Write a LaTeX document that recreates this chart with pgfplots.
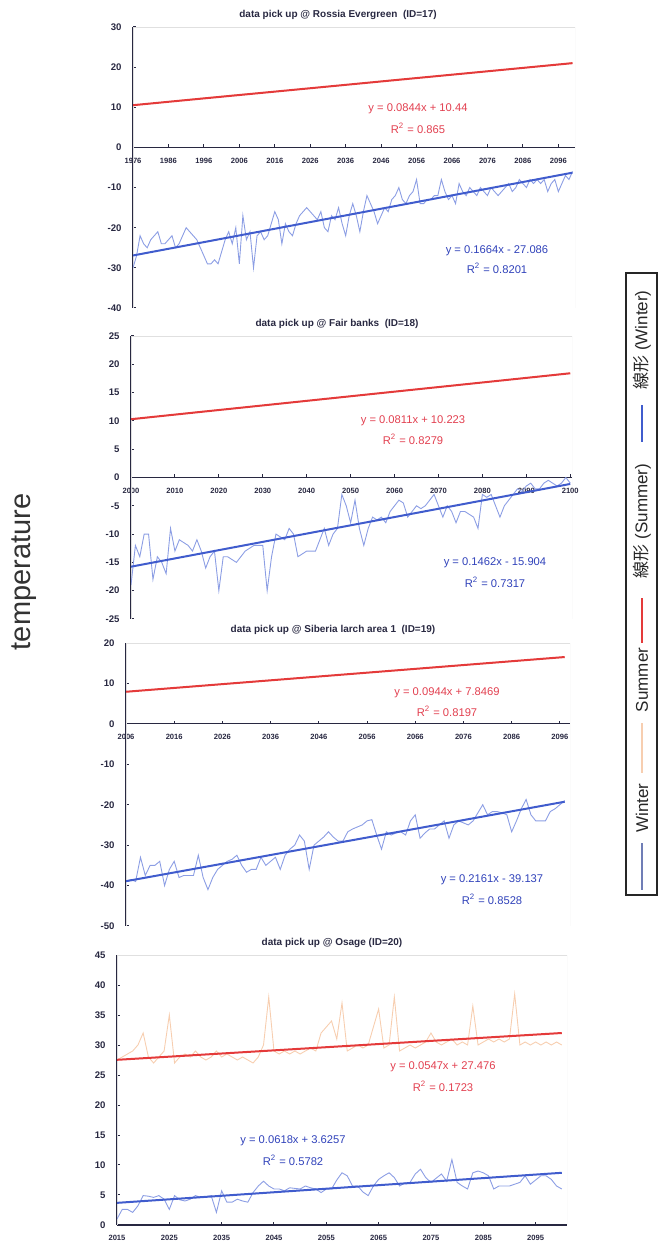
\documentclass[border=0pt]{standalone}
\usepackage{pgfplots}
\pgfplotsset{compat=1.18}
\usepackage{fontspec}
\setmainfont{Liberation Sans}
\newfontfamily\jp{Noto Sans CJK JP}
\definecolor{trendred}{RGB}{228,58,58}
\definecolor{trendblue}{RGB}{64,92,205}
\definecolor{winterc}{RGB}{140,158,228}
\definecolor{summerc}{RGB}{247,206,176}
\definecolor{eqred}{RGB}{226,64,80}
\definecolor{eqblue}{RGB}{48,66,186}
\definecolor{axc}{RGB}{40,40,65}
\tikzset{pframe/.style={black!12, line width=0.4pt}}
\pgfplotsset{
  panel/.style={
    scale only axis,
    axis x line=middle, axis y line=left,
    axis line style={axc, line width=0.6pt, -},
    every inner x axis line/.append style={-},
    every outer x axis line/.append style={-},
    every inner y axis line/.append style={-},
    every outer y axis line/.append style={-},
    hide obscured x ticks=false, hide obscured y ticks=false,
    tick align=inside, major tick length=1.5pt,
    tick style={axc, line width=0.5pt},
    /pgf/number format/assume math mode=true,
    /pgf/number format/1000 sep={},
    xticklabel style={font=\bfseries\fontsize{3.8}{4.5}\selectfont, text=axc, yshift=-1.8pt},
    yticklabel style={font=\bfseries\fontsize{4.8}{5.5}\selectfont, text=axc, xshift=-2.2pt},
    anchor=south west,
  },
  wint/.style={color=winterc, line width=0.45pt, no marks},
  summ/.style={color=summerc, line width=0.45pt, no marks},
  tred/.style={color=trendred, line width=1pt, no marks},
  tblue/.style={color=trendblue, line width=1pt, no marks},
}
\newcommand{\eqfont}{\fontsize{5.6}{6.5}\selectfont}
\newcommand{\ttlfont}{\bfseries\fontsize{5}{6}\selectfont}
\begin{document}
\begin{tikzpicture}
\path[use as bounding box] (0,0) rectangle (329pt,624pt);

% ---------------- Panel 1 ----------------
\begin{axis}[panel, at={(66.5pt,470pt)}, width=221pt, height=140.5pt,
  xmin=1976, xmax=2100.7, ymin=-40, ymax=30,
  xtick={1976,1986,...,2096}, ytick={-40,-30,...,30}]
\draw[pframe] (rel axis cs:0,0) rectangle (rel axis cs:1,1);
\addplot[summ] coordinates {(1976,10.4) (1990,11.8) (2005,13.1) (2020,14.2) (2035,15.5) (2050,16.9) (2065,18.0) (2080,19.3) (2100,21.1)};
\addplot[wint] table {
x y
1976 -30
1977 -27
1978 -22
1979 -24
1980 -25
1981 -23
1982 -22
1983 -21
1984 -24
1985 -24
1986 -23
1987 -22
1988 -25
1989 -24
1990 -22
1991 -20
1992 -21
1993 -22
1994 -23
1995 -25
1996 -27
1997 -29
1998 -29
1999 -28
2000 -29
2001 -26
2002 -23
2003 -21
2004 -24
2005 -20
2006 -29
2007 -17
2008 -23
2009 -21
2010 -30
2011 -22
2012 -21
2013 -23
2014 -22
2015 -19
2016 -16
2017 -18
2018 -24
2019 -19
2020 -21
2021 -22
2022 -19
2023 -17
2024 -16
2025 -15
2026 -16
2027 -17
2028 -18
2029 -16
2030 -20
2031 -21
2032 -17
2033 -18
2034 -15
2035 -19
2036 -22
2037 -17
2038 -14
2039 -17
2040 -21
2041 -16
2042 -12
2043 -14
2044 -16
2045 -19
2046 -17
2047 -15
2048 -16
2049 -13
2050 -12
2051 -10
2052 -13
2053 -14
2054 -12
2055 -11
2056 -8
2057 -14
2058 -14
2059 -13
2060 -13
2061 -12
2062 -12
2063 -8
2064 -11
2065 -13
2066 -12
2067 -14
2068 -9
2069 -11
2070 -12
2071 -10
2072 -11
2073 -12
2074 -10
2075 -11
2076 -12
2077 -10
2078 -11
2079 -12
2080 -11
2081 -10
2082 -9
2083 -11
2084 -10
2085 -8
2086 -9
2087 -10
2088 -8
2089 -9
2090 -8
2091 -9
2092 -8
2093 -11
2094 -9
2095 -8
2096 -11
2097 -9
2098 -7
2099 -8
2100 -6
};
\addplot[tred] coordinates {(1976,10.52) (2100,20.99)};
\addplot[tblue] coordinates {(1976,-26.92) (2100,-6.29)};
\end{axis}

% ---------------- Panel 2 ----------------
\begin{axis}[panel, at={(65.5pt,314.5pt)}, width=220.5pt, height=141.5pt,
  xmin=2000, xmax=2100.4, ymin=-25, ymax=25,
  xtick={2000,2010,...,2100}, ytick={-25,-20,...,25}]
\draw[pframe] (rel axis cs:0,0) rectangle (rel axis cs:1,1);
\addplot[summ] coordinates {(2000,10.2) (2015,11.6) (2030,12.7) (2045,13.9) (2060,15.2) (2075,16.4) (2090,17.6) (2100,18.5)};
\addplot[wint] table {
x y
2000 -19
2001 -12
2002 -14
2003 -10
2004 -10
2005 -18
2006 -14
2007 -15
2008 -17
2009 -9
2010 -13
2011 -11
2012 -11.5
2013 -12
2014 -13
2015 -11
2016 -13
2017 -16
2018 -14
2019 -13
2020 -20
2021 -14
2022 -14
2023 -14.5
2024 -15
2025 -14
2026 -13
2027 -12.5
2028 -12
2029 -12
2030 -12
2031 -20
2032 -14
2033 -10
2034 -10.5
2035 -11
2036 -9
2037 -10
2038 -14
2039 -13.5
2040 -13
2041 -13
2042 -13
2043 -11
2044 -9
2045 -12
2046 -10
2047 -9
2048 -3
2049 -5
2050 -8
2051 -4
2052 -9
2053 -12
2054 -9
2055 -7
2056 -7.5
2057 -7
2058 -8
2059 -6
2060 -5
2061 -4
2062 -4.5
2063 -7
2064 -6
2065 -5
2066 -5.5
2067 -5
2068 -4
2069 -3
2070 -5
2071 -7
2072 -5
2073 -6
2074 -8
2075 -6
2076 -6
2077 -6.5
2078 -7
2079 -9
2080 -3
2081 -3.5
2082 -3
2083 -5
2084 -7
2085 -5
2086 -4
2087 -3
2088 -2
2089 -2.5
2090 -1.5
2091 -1
2092 -2
2093 -2
2094 -1
2095 -0.5
2096 -1
2097 -1.5
2098 -1
2099 0
2100 -1
};
\addplot[tred] coordinates {(2000,10.30) (2100,18.41)};
\addplot[tblue] coordinates {(2000,-15.76) (2100,-1.14)};
\end{axis}

% ---------------- Panel 3 ----------------
\begin{axis}[panel, at={(63pt,161pt)}, width=222pt, height=141.5pt,
  xmin=2006, xmax=2098.1, ymin=-50, ymax=20,
  xtick={2006,2016,...,2096}, ytick={-50,-40,...,20}]
\draw[pframe] (rel axis cs:0,0) rectangle (rel axis cs:1,1);
\addplot[summ] coordinates {(2006,7.9) (2020,9.3) (2035,10.6) (2050,12.1) (2065,13.5) (2080,14.9) (2097,16.5)};
\addplot[wint] table {
x y
2006 -39
2007 -38.5
2008 -39
2009 -33
2010 -37.5
2011 -35
2012 -35
2013 -34
2014 -40
2015 -36
2016 -34
2017 -38
2018 -37.5
2019 -37.5
2020 -37.5
2021 -32.5
2022 -38
2023 -41
2024 -38
2025 -36
2026 -35
2027 -34
2028 -33.5
2029 -32.5
2030 -35
2031 -36.7
2032 -36
2033 -36
2034 -33
2035 -35
2036 -34
2037 -33
2038 -36
2039 -32.5
2040 -31
2041 -30
2042 -27.5
2043 -29
2044 -36
2045 -30
2046 -29
2047 -28
2048 -26.7
2049 -28
2050 -29
2051 -29
2052 -26.7
2053 -26
2054 -25.5
2055 -25
2056 -24
2057 -23.7
2058 -27.5
2059 -31
2060 -26.7
2061 -27.5
2062 -27
2063 -26.7
2064 -27.5
2065 -24
2066 -22.5
2067 -28.3
2068 -27
2069 -26
2070 -26
2071 -25
2072 -24
2073 -28.3
2074 -25
2075 -24
2076 -24.5
2077 -25
2078 -24
2079 -22
2080 -20
2081 -22.5
2082 -21.7
2083 -21.7
2084 -22
2085 -22.5
2086 -26.7
2087 -24
2088 -21
2089 -18.7
2090 -22.5
2091 -24
2092 -24
2093 -24
2094 -21.7
2095 -21
2096 -20
2097 -19
};
\addplot[tred] coordinates {(2006,7.94) (2097,16.53)};
\addplot[tblue] coordinates {(2006,-38.92) (2097,-19.26)};
\end{axis}

% ---------------- Panel 4 ----------------
\begin{axis}[panel, at={(58.5pt,11.5pt)}, width=225pt, height=135pt,
  xmin=2015, xmax=2101, ymin=0, ymax=45,
  xtick={2015,2025,...,2095}, ytick={0,5,...,45}]
\draw[pframe] (rel axis cs:0,0) rectangle (rel axis cs:1,1);
\addplot[summ] table {
x y
2015 27.5
2016 28
2017 28.5
2018 29
2019 30
2020 32
2021 28
2022 27
2023 28
2024 29
2025 35
2026 27
2027 28
2028 28.5
2029 28
2030 29
2031 28
2032 27.5
2033 28
2034 29
2035 28
2036 28.5
2037 28
2038 27.5
2039 28
2040 27.5
2041 27
2042 28
2043 30
2044 38
2045 29
2046 28.5
2047 29
2048 28.5
2049 29
2050 28.5
2051 29
2052 29.5
2053 29
2054 32
2055 33
2056 34
2057 31
2058 37
2059 29
2060 29.5
2061 30
2062 29.5
2063 30
2064 33
2065 36
2066 29.5
2067 30
2068 38
2069 29
2070 29.5
2071 30
2072 29.5
2073 30
2074 30.5
2075 32
2076 30.5
2077 30
2078 30.5
2079 31
2080 30
2081 30.5
2082 30
2083 36.5
2084 30
2085 30.5
2086 31
2087 30.5
2088 31
2089 30.5
2090 31
2091 38.5
2092 30
2093 30.5
2094 30
2095 30.5
2096 30
2097 30.5
2098 30
2099 30.5
2100 30
};
\addplot[wint] table {
x y
2015 1
2016 2.6
2017 2.6
2018 2.1
2019 3.2
2020 4.9
2021 4.8
2022 4.6
2023 4.9
2024 4.3
2025 2.6
2026 4.9
2027 4.2
2028 4
2029 4.3
2030 4.9
2031 4.6
2032 4.7
2033 4.9
2034 2.1
2035 5.7
2036 3.8
2037 3.8
2038 4.3
2039 4
2040 3.8
2041 5.4
2042 6.5
2043 7.3
2044 6.5
2045 6
2046 6
2047 5.7
2048 6.2
2049 6.1
2050 6
2051 6.5
2052 6.2
2053 6
2054 5.4
2055 6
2056 6
2057 7.5
2058 8.7
2059 8.2
2060 6.5
2061 6.5
2062 5.5
2063 4.9
2064 6.5
2065 7.6
2066 8.2
2067 8.7
2068 7.9
2069 6.5
2070 7
2071 7.1
2072 8.5
2073 9.3
2074 7.9
2075 7.1
2076 7.8
2077 8.5
2078 7.3
2079 10.9
2080 7.1
2081 6.5
2082 6
2083 8.7
2084 9
2085 8.7
2086 8.2
2087 6
2088 6.5
2089 6.5
2090 6.5
2091 6.8
2092 7.1
2093 8.2
2094 6.8
2095 7.5
2096 8.2
2097 8.2
2098 7.6
2099 6.5
2100 6
};
\addplot[tred] coordinates {(2015,27.53) (2100,32.0)};
\addplot[tblue] coordinates {(2015,3.69) (2100,8.7)};
\end{axis}

% ---------------- Titles ----------------
\node[font=\ttlfont, text=axc] at (169pt,616.5pt) {data pick up @ Rossia Evergreen\ \ (ID=17)};
\node[font=\ttlfont, text=axc] at (168.5pt,462pt) {data pick up @ Fair banks\ \ (ID=18)};
\node[font=\ttlfont, text=axc] at (166.5pt,309pt) {data pick up @ Siberia larch area 1\ \ (ID=19)};
\node[font=\ttlfont, text=axc] at (166pt,152.5pt) {data pick up @ Osage (ID=20)};

% ---------------- Equations ----------------
\node[font=\eqfont, text=eqred] at (209pt,569.5pt) {y = 0.0844x + 10.44};
\node[font=\eqfont, text=eqred] at (209pt,560pt) {R\textsuperscript{2} = 0.865};
\node[font=\eqfont, text=eqblue] at (248.5pt,498.5pt) {y = 0.1664x - 27.086};
\node[font=\eqfont, text=eqblue] at (248.5pt,490pt) {R\textsuperscript{2} = 0.8201};
\node[font=\eqfont, text=eqred] at (206.5pt,413.5pt) {y = 0.0811x + 10.223};
\node[font=\eqfont, text=eqred] at (206.5pt,404.5pt) {R\textsuperscript{2} = 0.8279};
\node[font=\eqfont, text=eqblue] at (247.5pt,342.5pt) {y = 0.1462x - 15.904};
\node[font=\eqfont, text=eqblue] at (247.5pt,333pt) {R\textsuperscript{2} = 0.7317};
\node[font=\eqfont, text=eqred] at (223.5pt,277.5pt) {y = 0.0944x + 7.8469};
\node[font=\eqfont, text=eqred] at (223.5pt,268.5pt) {R\textsuperscript{2} = 0.8197};
\node[font=\eqfont, text=eqblue] at (246pt,184pt) {y = 0.2161x - 39.137};
\node[font=\eqfont, text=eqblue] at (246pt,174.5pt) {R\textsuperscript{2} = 0.8528};
\node[font=\eqfont, text=eqred] at (221.5pt,90.5pt) {y = 0.0547x + 27.476};
\node[font=\eqfont, text=eqred] at (221.5pt,81pt) {R\textsuperscript{2} = 0.1723};
\node[font=\eqfont, text=eqblue] at (146.5pt,53.5pt) {y = 0.0618x + 3.6257};
\node[font=\eqfont, text=eqblue] at (146.5pt,44pt) {R\textsuperscript{2} = 0.5782};

% ---------------- y label ----------------
\node[rotate=90, font=\fontsize{14.5}{16}\selectfont, text=black!80] at (12pt,338pt) {temperature};

% ---------------- Legend ----------------
\draw[black!85, line width=0.6pt] (313pt,176.5pt) rectangle (328.5pt,487.5pt);
\node[rotate=90, font=\fontsize{8.5}{10}\selectfont, text=black!85] at (321pt,454pt) {{\jp 線形} (Winter)};
\draw[trendblue, line width=1pt] (321pt,403pt) -- (321pt,421.5pt);
\node[rotate=90, font=\fontsize{8.5}{10}\selectfont, text=black!85] at (321pt,363.5pt) {{\jp 線形} (Summer)};
\draw[trendred, line width=1pt] (321pt,302.5pt) -- (321pt,325pt);
\node[rotate=90, font=\fontsize{8.5}{10}\selectfont, text=black!85] at (321pt,284pt) {Summer};
\draw[summerc, line width=0.6pt] (321pt,237.5pt) -- (321pt,262.5pt);
\node[rotate=90, font=\fontsize{8.5}{10}\selectfont, text=black!85] at (321pt,220pt) {Winter};
\draw[winterc!80!black, line width=0.6pt] (321pt,179pt) -- (321pt,202.5pt);
\end{tikzpicture}
\end{document}
